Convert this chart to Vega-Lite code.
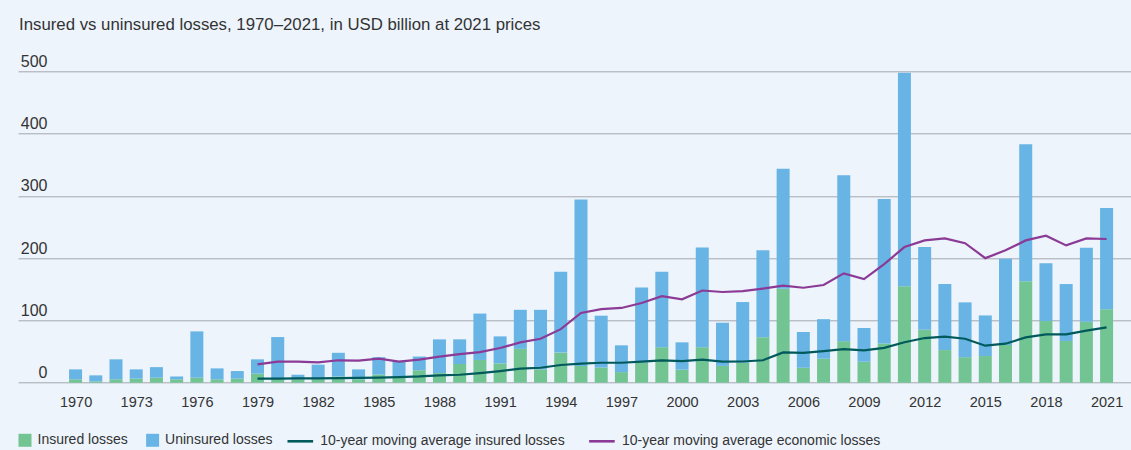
{
  "$schema": "https://vega.github.io/schema/vega-lite/v6.json",
  "width": 1113,
  "height": 311.4,
  "autosize": {"type": "none"},
  "padding": {"left": 18, "top": 71.3, "right": 0, "bottom": 67.3},
  "background": "#EDF4FC",
  "title": {
    "text": "Insured vs uninsured losses, 1970–2021,  in USD billion at 2021 prices",
    "anchor": "start",
    "frame": "group",
    "offset": 20,
    "dx": 1,
    "fontSize": 16.8,
    "fontWeight": "normal",
    "font": "Liberation Sans",
    "color": "#333333"
  },
  "data": {
    "values": [
      {"year": 1970, "insured": 5.4, "uninsured": 16.0, "ma_insured": null, "ma_economic": null},
      {"year": 1971, "insured": 2.0, "uninsured": 9.8, "ma_insured": null, "ma_economic": null},
      {"year": 1972, "insured": 5.4, "uninsured": 32.1, "ma_insured": null, "ma_economic": null},
      {"year": 1973, "insured": 6.5, "uninsured": 14.9, "ma_insured": null, "ma_economic": null},
      {"year": 1974, "insured": 8.0, "uninsured": 17.0, "ma_insured": null, "ma_economic": null},
      {"year": 1975, "insured": 5.4, "uninsured": 4.6, "ma_insured": null, "ma_economic": null},
      {"year": 1976, "insured": 8.0, "uninsured": 74.4, "ma_insured": null, "ma_economic": null},
      {"year": 1977, "insured": 5.4, "uninsured": 17.6, "ma_insured": null, "ma_economic": null},
      {"year": 1978, "insured": 6.5, "uninsured": 12.2, "ma_insured": null, "ma_economic": null},
      {"year": 1979, "insured": 14.5, "uninsured": 23.0, "ma_insured": 6.4, "ma_economic": 29.4},
      {"year": 1980, "insured": 5.5, "uninsured": 67.8, "ma_insured": 6.5, "ma_economic": 33.7},
      {"year": 1981, "insured": 5.4, "uninsured": 7.4, "ma_insured": 6.8, "ma_economic": 33.7},
      {"year": 1982, "insured": 5.5, "uninsured": 23.5, "ma_insured": 7.0, "ma_economic": 32.6},
      {"year": 1983, "insured": 10.0, "uninsured": 38.0, "ma_insured": 7.3, "ma_economic": 36.0},
      {"year": 1984, "insured": 5.5, "uninsured": 15.9, "ma_insured": 7.6, "ma_economic": 35.5},
      {"year": 1985, "insured": 13.0, "uninsured": 28.0, "ma_insured": 8.0, "ma_economic": 38.5},
      {"year": 1986, "insured": 7.5, "uninsured": 27.5, "ma_insured": 9.0, "ma_economic": 34.0},
      {"year": 1987, "insured": 20.0, "uninsured": 22.0, "ma_insured": 10.0, "ma_economic": 37.0},
      {"year": 1988, "insured": 15.5, "uninsured": 54.1, "ma_insured": 11.8, "ma_economic": 42.0},
      {"year": 1989, "insured": 30.0, "uninsured": 39.6, "ma_insured": 12.8, "ma_economic": 46.0},
      {"year": 1990, "insured": 36.5, "uninsured": 74.5, "ma_insured": 15.5, "ma_economic": 49.0},
      {"year": 1991, "insured": 31.0, "uninsured": 43.4, "ma_insured": 18.7, "ma_economic": 55.7},
      {"year": 1992, "insured": 54.3, "uninsured": 62.7, "ma_insured": 22.5, "ma_economic": 64.8},
      {"year": 1993, "insured": 21.5, "uninsured": 95.5, "ma_insured": 24.0, "ma_economic": 70.6},
      {"year": 1994, "insured": 48.3, "uninsured": 129.7, "ma_insured": 28.4, "ma_economic": 86.0},
      {"year": 1995, "insured": 27.0, "uninsured": 267.0, "ma_insured": 30.5, "ma_economic": 112.0},
      {"year": 1996, "insured": 24.3, "uninsured": 83.3, "ma_insured": 32.0, "ma_economic": 118.0},
      {"year": 1997, "insured": 17.0, "uninsured": 43.0, "ma_insured": 32.0, "ma_economic": 120.0},
      {"year": 1998, "insured": 32.0, "uninsured": 121.0, "ma_insured": 33.7, "ma_economic": 128.0},
      {"year": 1999, "insured": 57.0, "uninsured": 121.0, "ma_insured": 35.9, "ma_economic": 139.0},
      {"year": 2000, "insured": 20.9, "uninsured": 43.9, "ma_insured": 34.8, "ma_economic": 134.0},
      {"year": 2001, "insured": 57.0, "uninsured": 160.0, "ma_insured": 37.0, "ma_economic": 148.0},
      {"year": 2002, "insured": 27.0, "uninsured": 69.3, "ma_insured": 33.7, "ma_economic": 145.6},
      {"year": 2003, "insured": 32.0, "uninsured": 97.5, "ma_insured": 34.0, "ma_economic": 147.0},
      {"year": 2004, "insured": 73.0, "uninsured": 139.5, "ma_insured": 36.0, "ma_economic": 151.0},
      {"year": 2005, "insured": 151.0, "uninsured": 192.6, "ma_insured": 48.7, "ma_economic": 155.7},
      {"year": 2006, "insured": 24.0, "uninsured": 57.4, "ma_insured": 48.0, "ma_economic": 152.5},
      {"year": 2007, "insured": 38.5, "uninsured": 63.5, "ma_insured": 50.8, "ma_economic": 156.8},
      {"year": 2008, "insured": 66.7, "uninsured": 266.3, "ma_insured": 54.0, "ma_economic": 175.5},
      {"year": 2009, "insured": 33.7, "uninsured": 54.1, "ma_insured": 52.0, "ma_economic": 166.4},
      {"year": 2010, "insured": 63.0, "uninsured": 232.0, "ma_insured": 56.0, "ma_economic": 190.5},
      {"year": 2011, "insured": 155.0, "uninsured": 342.7, "ma_insured": 65.0, "ma_economic": 217.8},
      {"year": 2012, "insured": 85.0, "uninsured": 132.8, "ma_insured": 71.7, "ma_economic": 228.5},
      {"year": 2013, "insured": 52.4, "uninsured": 106.0, "ma_insured": 73.9, "ma_economic": 231.7},
      {"year": 2014, "insured": 41.0, "uninsured": 88.0, "ma_insured": 70.6, "ma_economic": 224.0},
      {"year": 2015, "insured": 42.8, "uninsured": 65.2, "ma_insured": 59.4, "ma_economic": 200.0},
      {"year": 2016, "insured": 60.5, "uninsured": 138.5, "ma_insured": 62.6, "ma_economic": 212.5},
      {"year": 2017, "insured": 163.0, "uninsured": 219.7, "ma_insured": 72.8, "ma_economic": 228.5},
      {"year": 2018, "insured": 99.0, "uninsured": 92.6, "ma_insured": 77.6, "ma_economic": 236.0},
      {"year": 2019, "insured": 67.0, "uninsured": 91.4, "ma_insured": 77.6, "ma_economic": 220.5},
      {"year": 2020, "insured": 98.0, "uninsured": 118.8, "ma_insured": 83.5, "ma_economic": 231.7},
      {"year": 2021, "insured": 118.0, "uninsured": 162.4, "ma_insured": 88.8, "ma_economic": 230.7}
    ]
  },
  "encoding": {
    "x": {
      "field": "year",
      "type": "quantitative",
      "scale": {"domain": [1967.4, 2021.96], "nice": false, "zero": false},
      "axis": {
        "title": null,
        "values": [1970, 1973, 1976, 1979, 1982, 1985, 1988, 1991, 1994, 1997, 2000, 2003, 2006, 2009, 2012, 2015, 2018, 2021],
        "format": "d",
        "grid": false,
        "ticks": false,
        "tickSize": 0,
        "domain": false,
        "labelFontSize": 14.5,
        "labelFont": "Liberation Sans",
        "labelColor": "#333333",
        "labelPadding": 13,
        "labelFlush": false,
        "labelOverlap": false
      }
    }
  },
  "layer": [
    {
      "transform": [{"fold": ["insured", "uninsured"], "as": ["key", "value"]}],
      "mark": {"type": "bar", "size": 13},
      "encoding": {
        "y": {
          "field": "value",
          "type": "quantitative",
          "stack": "zero",
          "scale": {"domain": [0, 500], "nice": false},
          "axis": {
            "title": null,
            "values": [0, 100, 200, 300, 400, 500],
            "grid": true,
            "gridColor": "#A5A9AE",
            "gridWidth": 1,
            "domain": false,
            "ticks": false,
            "tickSize": 0,
            "labelAlign": "right",
            "labelBaseline": "alphabetic",
            "labelPadding": -29,
            "labelOffset": -5,
            "labelFontSize": 16,
            "labelFont": "Liberation Sans",
            "labelColor": "#333333"
          }
        },
        "fill": {
          "field": "key",
          "type": "nominal",
          "scale": {
            "domain": ["insured", "uninsured"],
            "range": ["#72C493", "#68B5E5"]
          },
          "legend": {
            "title": null,
            "orient": "bottom",
            "direction": "horizontal",
            "offset": 23.5,
            "labelExpr": "datum.value == 'insured' ? 'Insured losses' : 'Uninsured losses'",
            "labelFontSize": 14,
            "labelFont": "Liberation Sans",
            "labelColor": "#333333",
            "labelLimit": 500,
            "labelOffset": 5.5,
            "columnPadding": 17.6,
            "symbolType": "square",
            "symbolSize": 169,
            "symbolStrokeWidth": 0,
            "symbolOpacity": 1,
            "padding": 0
          }
        },
        "order": {"field": "key", "sort": "ascending"}
      }
    },
    {
      "transform": [
        {"fold": ["ma_insured", "ma_economic"], "as": ["key", "value"]},
        {"filter": "isValid(datum.value)"}
      ],
      "mark": {"type": "line", "strokeWidth": 2.2},
      "encoding": {
        "y": {"field": "value", "type": "quantitative"},
        "stroke": {
          "field": "key",
          "type": "nominal",
          "scale": {
            "domain": ["ma_insured", "ma_economic"],
            "range": ["#005A5C", "#8B3A96"]
          },
          "legend": {
            "title": null,
            "orient": "bottom",
            "direction": "horizontal",
            "offset": 23.5,
            "labelExpr": "datum.value == 'ma_insured' ? '10-year moving average insured losses' : '10-year moving average economic losses'",
            "labelFontSize": 14,
            "labelFont": "Liberation Sans",
            "labelColor": "#333333",
            "labelLimit": 500,
            "labelOffset": 18.3,
            "columnPadding": 17.6,
            "symbolType": "M-1,0H2.94",
            "symbolSize": 169,
            "symbolStrokeWidth": 2.6,
            "symbolFillColor": "transparent",
            "symbolOffset": 5,
            "symbolOpacity": 1,
            "padding": 0
          }
        }
      }
    }
  ],
  "config": {
    "view": {"stroke": null}
  }
}
